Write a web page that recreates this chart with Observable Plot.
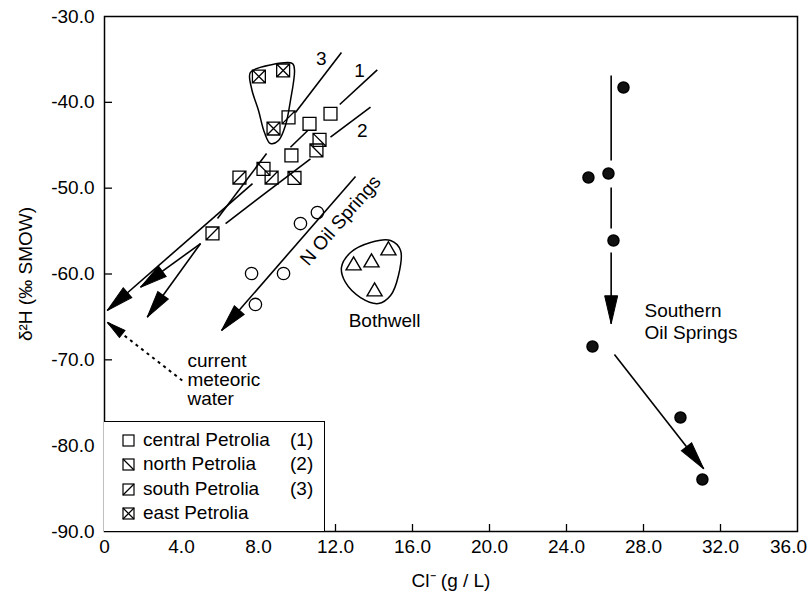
<!DOCTYPE html>
<html>
<head>
<meta charset="utf-8">
<script src="https://cdn.jsdelivr.net/npm/d3@7"></script>
<script src="https://cdn.jsdelivr.net/npm/@observablehq/plot@0.6"></script>
<style>
  html, body { margin: 0; padding: 0; background: #fff; }
  #wrap { position: relative; width: 810px; height: 598px; font-family: "Liberation Sans", Arial, sans-serif; color: #000; }
  #legend { position: absolute; box-sizing: border-box; border-top: 1.5px solid #000; border-right: 1.5px solid #000; background: #fff; }
  .lrow { position: absolute; left: 0; height: 22px; line-height: 22px; font-size: 19px; white-space: nowrap; }
  .lrow svg { position: absolute; top: 5px; }
</style>
</head>
<body>
<div id="wrap"></div>
<script>
// ---------- data ----------
const xTicks = [0, 4, 8, 12, 16, 20, 24, 28, 32, 36];
const yTicks = [-30, -40, -50, -60, -70, -80, -90];

const centralPetrolia = [[10.65, -42.50], [11.74, -41.33], [9.71, -46.19]];
const northPetrolia   = [[11.17, -44.37], [11.01, -45.61], [9.87, -48.81], [8.26, -47.76]];
const southPetrolia   = [[9.56, -41.76], [7.01, -48.76], [5.61, -55.28], [8.68, -48.76]];
const eastPetrolia    = [[8.02, -36.99], [9.28, -36.29], [8.78, -43.05]];
const nOilSprings     = [[10.18, -54.12], [11.06, -52.84], [7.64, -59.94], [9.30, -59.94], [7.84, -63.55]];
const bothwell        = [[12.94, -59.01], [13.87, -58.66], [14.75, -57.26], [14.03, -62.04]];
const southernOil     = [[26.96, -38.27], [25.14, -48.76], [26.18, -48.29], [26.44, -56.10], [25.35, -68.45], [29.92, -76.72], [31.06, -83.94]];

// trend segments [x1, y1, x2, y2, head]
const trend1 = [[14.17, -36.21, 12.22, -40.25, false], [10.56, -43.28, 9.66, -45.23, false], [7.69, -49.46, 0.14, -64.25, true]];
const trend2 = [[13.82, -40.57, 11.74, -44.06, false], [10.70, -46.58, 6.29, -54.12, false], [4.99, -56.45, 1.87, -61.54, true]];
const trend3 = [[12.31, -34.19, 9.92, -41.19, false], [8.42, -45.96, 5.87, -53.53, false], [4.99, -56.45, 2.22, -65.03, true]];
const nOilTrend = [[13.04, -48.64, 6.08, -66.58, true]];
const southernTrend = [[26.32, -36.87, 26.32, -46.78, false], [26.32, -49.92, 26.32, -54.70, false], [26.32, -57.50, 26.32, -65.80, true], [26.49, -69.38, 31.13, -82.70, true]];
const meteoricTrend = [[4.04, -72.41, 0.14, -65.62, true]];

const eastOutline = [[7.58, -36.52], [8.73, -35.59], [9.77, -35.48], [9.87, -36.29], [9.66, -39.79], [9.40, -42.70], [9.04, -44.45], [8.62, -44.80], [8.31, -43.52], [8.00, -40.95], [7.64, -38.39]];
const bothwellOutline = [[13.82, -56.33], [14.86, -56.10], [15.38, -57.26], [15.27, -60.18], [14.86, -62.51], [14.23, -63.44], [13.30, -62.74], [12.52, -60.99], [12.31, -59.24], [12.78, -57.50]];

const trendNumbers = [["3", 11.26, -34.93], ["1", 13.25, -36.29], ["2", 13.39, -43.36]];
const legendLabels = ["central Petrolia", "north Petrolia", "south Petrolia", "east Petrolia"];
const legendNumbers = ["(1)", "(2)", "(3)", ""];
const legendKinds = ["central", "north", "south", "east"];

// ---------- layout ----------
const W = 810, H = 598, mL = 104, mR = 13, mT = 16, mB = 67;
const kx = (W - mL - mR) / 36, ky = (H - mT - mB) / 60;

// ---------- symbols ----------
function squareSym(kind) {
  return {
    draw(ctx, size) {
      const s = Math.sqrt(size) / 2;
      ctx.moveTo(-s, -s); ctx.lineTo(s, -s); ctx.lineTo(s, s); ctx.lineTo(-s, s); ctx.closePath();
      if (kind === "north" || kind === "east") { ctx.moveTo(-s, -s); ctx.lineTo(s, s); }
      if (kind === "south" || kind === "east") { ctx.moveTo(-s, s); ctx.lineTo(s, -s); }
    }
  };
}
function wedge(L, w) {
  return { draw(ctx) { ctx.moveTo(0, 0); ctx.lineTo(w / 2, L); ctx.lineTo(-w / 2, L); ctx.closePath(); } };
}
const toSeg = (arr) => arr.map(([x1, y1, x2, y2, head]) => ({x1, y1, x2, y2, head}));
const heads = (arr) => toSeg(arr).filter(d => d.head).map(d => ({
  x: d.x2, y: d.y2,
  angle: Math.atan2((d.x2 - d.x1) * kx, (d.y2 - d.y1) * ky) * 180 / Math.PI
}));
const pts = (arr) => arr.map(([x, y]) => ({x, y}));

const solidSegs = [...trend1, ...trend2, ...trend3, ...nOilTrend, ...southernTrend];
const bigHeads = heads([...trend1, ...trend2, ...trend3, ...nOilTrend]);
const sHeads = heads(southernTrend);
const mHeads = heads(meteoricTrend);

const fmtY = d => d.toFixed(1);
const fmtX = d => d === 0 ? "0" : d.toFixed(1);

const plot = Plot.plot({
  width: W, height: H,
  marginLeft: mL, marginRight: mR, marginTop: mT, marginBottom: mB,
  style: {fontFamily: "'Liberation Sans', Arial, sans-serif", fontSize: "19px", color: "#000", background: "#fff", overflow: "visible"},
  x: {domain: [0, 36]},
  y: {domain: [-90, -30]},
  marks: [
    Plot.frame({stroke: "#000", strokeWidth: 1.5}),
    Plot.axisX({ticks: xTicks.slice(0, -1), tickSize: 0, tickPadding: 8, tickFormat: fmtX, label: "Cl⁻ (g / L)", labelAnchor: "center", labelOffset: 55, labelArrow: "none"}),
    Plot.axisX({ticks: xTicks.slice(-1), tickSize: 0, tickPadding: 8, tickFormat: fmtX, label: null, dx: -9}),
    Plot.axisY({ticks: yTicks, tickSize: 0, tickPadding: 10, tickFormat: fmtY, label: "δ²H (‰ SMOW)", labelAnchor: "center", labelOffset: 86, labelArrow: "none"}),
    Plot.ruleY(yTicks.slice(1, -1), {x1: 0, x2: 8 / kx, stroke: "#000", strokeWidth: 1.3}),
    Plot.ruleX(xTicks.slice(1, -1), {y1: -90, y2: -90 + 7 / ky, stroke: "#000", strokeWidth: 1.3}),
    // outlines
    Plot.line(pts(eastOutline), {x: "x", y: "y", curve: "catmull-rom-closed", stroke: "#000", strokeWidth: 1.5}),
    Plot.line(pts(bothwellOutline), {x: "x", y: "y", curve: "catmull-rom-closed", stroke: "#000", strokeWidth: 1.5}),
    // trend lines
    Plot.link(toSeg(solidSegs), {x1: "x1", y1: "y1", x2: "x2", y2: "y2", stroke: "#000", strokeWidth: 1.6}),
    Plot.link(toSeg(meteoricTrend), {x1: "x1", y1: "y1", x2: "x2", y2: "y2", stroke: "#000", strokeWidth: 2, strokeDasharray: "3,4"}),
    Plot.dot(bigHeads, {x: "x", y: "y", rotate: "angle", symbol: wedge(27, 13), fill: "#000", stroke: "#000", strokeWidth: 1}),
    Plot.dot(sHeads, {x: "x", y: "y", rotate: "angle", symbol: wedge(28, 13), fill: "#000", stroke: "#000", strokeWidth: 1}),
    Plot.dot(mHeads, {x: "x", y: "y", rotate: "angle", symbol: wedge(19, 9), fill: "#000", stroke: "#000", strokeWidth: 1}),
    // points
    Plot.dot(pts(centralPetrolia), {x: "x", y: "y", r: 7.3, symbol: squareSym("central"), fill: "none", stroke: "#000", strokeWidth: 1.3}),
    Plot.dot(pts(northPetrolia), {x: "x", y: "y", r: 7.3, symbol: squareSym("north"), fill: "none", stroke: "#000", strokeWidth: 1.3}),
    Plot.dot(pts(southPetrolia), {x: "x", y: "y", r: 7.3, symbol: squareSym("south"), fill: "none", stroke: "#000", strokeWidth: 1.3}),
    Plot.dot(pts(eastPetrolia), {x: "x", y: "y", r: 7.3, symbol: squareSym("east"), fill: "none", stroke: "#000", strokeWidth: 1.3}),
    Plot.dot(pts(nOilSprings), {x: "x", y: "y", r: 6.2, fill: "none", stroke: "#000", strokeWidth: 1.3}),
    Plot.dot(pts(bothwell), {x: "x", y: "y", r: 5.6, symbol: "triangle", fill: "none", stroke: "#000", strokeWidth: 1.4}),
    Plot.dot(pts(southernOil), {x: "x", y: "y", r: 5.5, fill: "#111", stroke: "#000"}),
    // annotations
    Plot.text(trendNumbers, {x: d => d[1], y: d => d[2], text: d => d[0], fontSize: 19}),
    Plot.text(["N Oil Springs"], {x: 12.26, y: -53.77, text: d => d, rotate: -49, fontSize: 19}),
    Plot.text(["Bothwell"], {x: 14.55, y: -65.42, text: d => d, fontSize: 19}),
    Plot.text(["Southern\nOil Springs"], {x: 28.05, y: -65.5, text: d => d, textAnchor: "start", lineHeight: 1.14, fontSize: 19}),
    Plot.text(["current\nmeteoric\nwater"], {x: 4.31, y: -72.29, text: d => d, textAnchor: "start", lineHeight: 1.0, fontSize: 19})
  ]
});

const wrap = document.getElementById("wrap");
wrap.appendChild(plot);

// legend (inside the plot frame, bottom-left)
const legend = document.createElement("div");
legend.id = "legend";
legend.style.left = mL + "px";
legend.style.top = "421px";
legend.style.width = "221px";
legend.style.height = (H - mB - 421) + "px";
const rowTops = [18, 42, 67, 91];
legendLabels.forEach((lab, i) => {
  const row = document.createElement("div");
  row.className = "lrow";
  row.style.top = (rowTops[i] - 11) + "px";
  row.style.width = "100%";
  let extra = "";
  const k = legendKinds[i];
  if (k === "north" || k === "east") extra += `<line x1="1" y1="1" x2="12" y2="12"/>`;
  if (k === "south" || k === "east") extra += `<line x1="1" y1="12" x2="12" y2="1"/>`;
  row.innerHTML = `<svg width="13" height="13" style="left:18px" stroke="#000" stroke-width="1.2" fill="none"><rect x="1" y="1" width="11" height="11"/>${extra}</svg>` +
    `<span style="position:absolute;left:39px">${lab}</span>` +
    `<span style="position:absolute;left:186px">${legendNumbers[i]}</span>`;
  legend.appendChild(row);
});
wrap.appendChild(legend);
</script>
</body>
</html>
